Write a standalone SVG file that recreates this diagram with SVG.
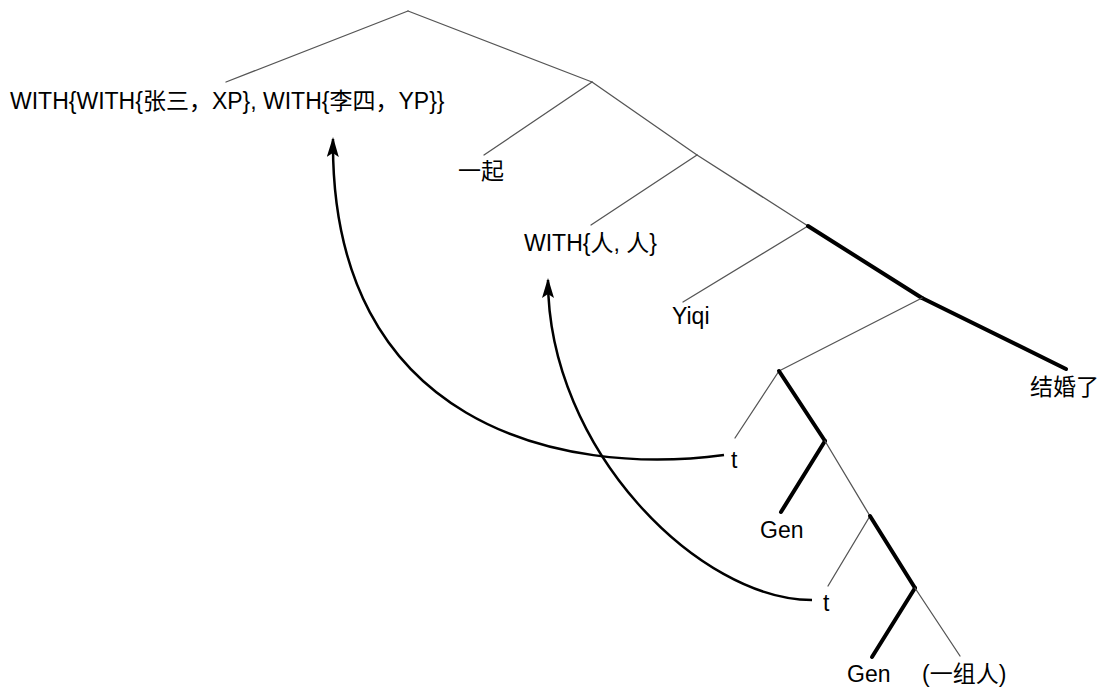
<svg xmlns="http://www.w3.org/2000/svg" width="1102" height="689" viewBox="0 0 1102 689">
<style>
.t{stroke:#555;stroke-width:1.3;fill:none;stroke-linecap:round}
.k{stroke:#000;stroke-width:4;fill:none;stroke-linecap:round}
.a{stroke:#000;stroke-width:2.5;fill:none}
text{font-family:"Liberation Sans","Noto Sans CJK SC",sans-serif;font-size:23px;fill:#000}
</style>
<defs>
<marker id="ah" viewBox="0 0 20 12" refX="18" refY="6" markerWidth="20" markerHeight="12" markerUnits="userSpaceOnUse" orient="auto">
<path d="M0,0 L20,6 L0,12 L4,6 Z" fill="#000"/>
</marker>
</defs>
<g id="connectors">
<line class="t" x1="408" y1="11" x2="226" y2="82"/>
<line class="t" x1="408" y1="11" x2="592" y2="82"/>
<line class="t" x1="592" y1="82" x2="484" y2="155"/>
<line class="t" x1="592" y1="82" x2="697" y2="155"/>
<line class="t" x1="697" y1="155" x2="591" y2="225"/>
<line class="t" x1="697" y1="155" x2="808" y2="226"/>
<line class="t" x1="808" y1="226" x2="683" y2="302"/>
<line class="k" x1="808" y1="226" x2="922" y2="298"/>
<line class="k" x1="922" y1="298" x2="1066" y2="369"/>
<line class="t" x1="922" y1="298" x2="779" y2="371"/>
<line class="t" x1="779" y1="371" x2="735" y2="438"/>
<line class="k" x1="779" y1="371" x2="825" y2="441"/>
<line class="k" x1="825" y1="441" x2="781" y2="512"/>
<line class="t" x1="825" y1="441" x2="870" y2="516"/>
<line class="t" x1="870" y1="516" x2="828" y2="586"/>
<line class="k" x1="870" y1="516" x2="915" y2="588"/>
<line class="k" x1="915" y1="588" x2="872" y2="657"/>
<line class="t" x1="915" y1="588" x2="960" y2="656"/>
<path class="a" d="M724,455 C560,477 330,425 333,139" marker-end="url(#ah)"/>
<path class="a" d="M812,600 C700,600 548,450 548,280" marker-end="url(#ah)"/>
</g>
<g id="n-with"><text x="10" y="109">WITH{WITH{张三，XP}, WITH{李四，YP}}</text></g>
<g id="n-yiqi-cn"><text x="458" y="179">一起</text></g>
<g id="n-with2"><text x="524" y="251">WITH{人, 人}</text></g>
<g id="n-yiqi"><text x="672" y="324">Yiqi</text></g>
<g id="n-jiehun"><text x="1030" y="395">结婚了</text></g>
<g id="n-t1"><text x="731" y="468">t</text></g>
<g id="n-gen1"><text x="760" y="538">Gen</text></g>
<g id="n-t2"><text x="823" y="611">t</text></g>
<g id="n-gen2"><text x="847" y="682">Gen</text></g>
<g id="n-yizu"><text x="922" y="682">(一组人)</text></g>
</svg>
